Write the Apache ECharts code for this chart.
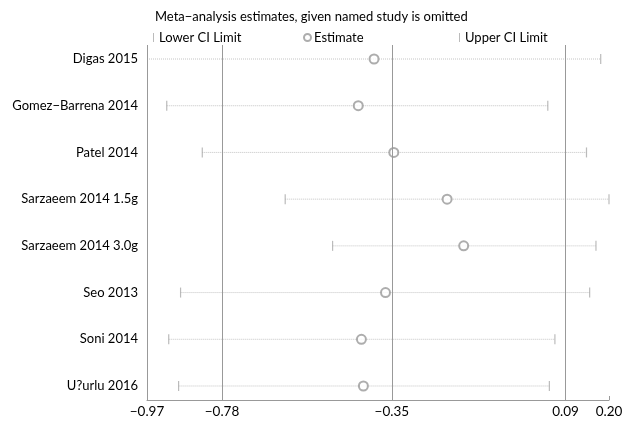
<!DOCTYPE html>
<html>
<head>
<meta charset="utf-8">
<script src="https://cdn.jsdelivr.net/npm/echarts@6/dist/echarts.min.js"></script>
<style>
  html, body { margin: 0; padding: 0; background: #fff; }
  #chart { width: 633px; height: 425px; }
</style>
</head>
<body>
<div id="chart"></div>
<script>
// studies, top to bottom
var studies = ["Digas 2015", "Gomez\u2212Barrena 2014", "Patel 2014", "Sarzaeem 2014 1.5g",
  "Sarzaeem 2014 3.0g", "Seo 2013", "Soni 2014", "U?urlu 2016"];
var lowerCI = [-0.99, -0.92, -0.83, -0.62, -0.50, -0.885, -0.915, -0.89];
var estimate = [-0.395, -0.435, -0.345, -0.21, -0.168, -0.366, -0.427, -0.422];
var upperCI = [0.179, 0.045, 0.143, 0.20, 0.167, 0.151, 0.063, 0.049];
var xTicks = [-0.97, -0.78, -0.35, 0.09, 0.20];
var refLines = [-0.97, -0.78, -0.35, 0.09];

var xMin = -0.97, xMax = 0.20;
var yMin = -0.3, yMax = 7.3;
var font = "Lato";

function fmt(v) {
  return v.toFixed(2).replace("-", "\u2212");
}

var chart = echarts.init(document.getElementById("chart"));

var option = {
  animation: false,
  textStyle: { fontFamily: font },
  title: {
    text: "Meta\u2212analysis estimates, given named study is omitted",
    left: 150,
    top: 5,
    textStyle: { fontSize: 13, fontWeight: "normal", color: "#000", fontFamily: font }
  },
  legend: [
    {
      data: ["Lower CI Limit"], left: 148, top: 26,
      icon: "rect", itemWidth: 1, itemHeight: 9, itemGap: 6,
      textStyle: { fontSize: 13, color: "#000", fontFamily: font }
    },
    {
      data: ["Estimate"], left: 298, top: 26,
      icon: "emptyCircle", itemWidth: 7, itemHeight: 7, itemGap: 2,
      textStyle: { fontSize: 13, color: "#000", fontFamily: font, padding: [0, 0, 0, -2] }
    },
    {
      data: ["Upper CI Limit"], left: 454, top: 26,
      icon: "rect", itemWidth: 1, itemHeight: 9, itemGap: 5,
      textStyle: { fontSize: 13, color: "#000", fontFamily: font }
    }
  ],
  grid: { left: 147, right: 24, top: 45, bottom: 25 },
  xAxis: {
    type: "value",
    min: xMin,
    max: xMax,
    axisLine: { show: true, onZero: false, lineStyle: { color: "#999", width: 1 } },
    axisTick: { show: true, inside: true, length: 4, customValues: xTicks, lineStyle: { color: "#999" } },
    axisLabel: {
      customValues: xTicks,
      formatter: function (v) { return fmt(v); },
      color: "#000", fontSize: 13.5, margin: 5, fontFamily: font
    },
    splitLine: { show: false }
  },
  yAxis: {
    type: "value",
    min: yMin,
    max: yMax,
    inverse: true,
    axisLine: { show: false, onZero: false },
    axisTick: { show: false },
    splitLine: { show: false },
    axisLabel: {
      customValues: studies.map(function (s, i) { return i; }),
      formatter: function (v) { return studies[Math.round(v)] || ""; },
      color: "#000", fontSize: 13, margin: 9, fontFamily: font
    }
  },
  series: [
    {
      type: "custom",
      name: "ci",
      silent: true,
      renderItem: function (params, api) {
        var lo = Math.max(api.value(0), xMin);
        var hi = Math.min(api.value(1), xMax);
        var y = api.value(2);
        var p1 = api.coord([lo, y]);
        var p2 = api.coord([hi, y]);
        return {
          type: "line",
          shape: { x1: p1[0], y1: p1[1], x2: p2[0], y2: p2[1] },
          style: { stroke: "#c4c4c4", lineWidth: 1, lineDash: [1, 1] }
        };
      },
      data: studies.map(function (s, i) { return [lowerCI[i], upperCI[i], i]; }),
      z: 1
    },
    {
      type: "scatter",
      name: "Lower CI Limit",
      symbol: "rect",
      symbolSize: [1.2, 10],
      clip: true,
      itemStyle: { color: "#aaa" },
      data: studies.map(function (s, i) { return [lowerCI[i], i]; }),
      markLine: {
        silent: true,
        symbol: "none",
        label: { show: false },
        lineStyle: { color: "#999", width: 1, type: "solid" },
        data: refLines.map(function (v) {
          return [{ coord: [v, yMin] }, { coord: [v, yMax] }];
        })
      },
      z: 3
    },
    {
      type: "scatter",
      name: "Estimate",
      symbol: "emptyCircle",
      symbolSize: 9,
      itemStyle: { color: "#999", borderColor: "#999", borderWidth: 1 },
      data: studies.map(function (s, i) { return [estimate[i], i]; }),
      z: 4
    },
    {
      type: "scatter",
      name: "Upper CI Limit",
      symbol: "rect",
      symbolSize: [1.2, 10],
      clip: false,
      itemStyle: { color: "#aaa" },
      data: studies.map(function (s, i) { return [upperCI[i], i]; }),
      z: 3
    }
  ]
};

chart.setOption(option);
</script>
</body>
</html>
